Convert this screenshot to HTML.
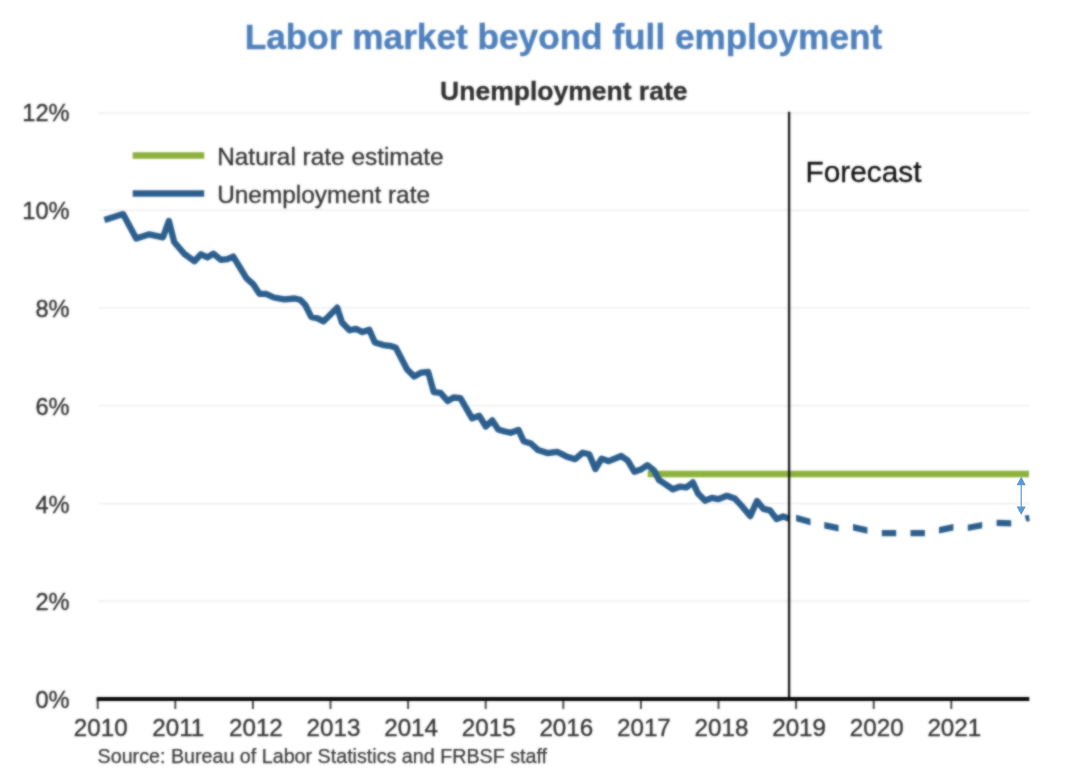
<!DOCTYPE html>
<html><head><meta charset="utf-8"><title>Labor market beyond full employment</title>
<style>
html,body{margin:0;padding:0;background:#fff}
body{width:1070px;height:780px;overflow:hidden;font-family:"Liberation Sans",Arial,sans-serif}
svg{display:block}
svg text{font-family:"Liberation Sans",Arial,sans-serif}
</style></head><body>
<svg width="1070" height="780" viewBox="0 0 1070 780">
<g filter="url(#b)">
<rect x="-10" y="-10" width="1090" height="800" fill="#fff"/>
<g stroke="#efefef" stroke-width="1.6"><line x1="98.5" x2="1030" y1="601.1" y2="601.1"/><line x1="98.5" x2="1030" y1="503.5" y2="503.5"/><line x1="98.5" x2="1030" y1="405.7" y2="405.7"/><line x1="98.5" x2="1030" y1="307.8" y2="307.8"/><line x1="98.5" x2="1030" y1="210.3" y2="210.3"/><line x1="98.5" x2="1030" y1="113.1" y2="113.1"/></g>
<text x="563.5" y="48.8" text-anchor="middle" font-size="35.2" font-weight="bold" fill="#4f81bd" stroke="#4f81bd" stroke-width="0.4">Labor market beyond full employment</text>
<text x="563.8" y="99.7" text-anchor="middle" font-size="26.5" font-weight="bold" fill="#303030" stroke="#303030" stroke-width="0.3">Unemployment rate</text>
<g font-size="23.6" fill="#333" stroke="#333" stroke-width="0.35"><text x="69.6" y="708.2" text-anchor="end">0%</text><text x="69.6" y="610.4" text-anchor="end">2%</text><text x="69.6" y="512.6" text-anchor="end">4%</text><text x="69.6" y="414.8" text-anchor="end">6%</text><text x="69.6" y="316.9" text-anchor="end">8%</text><text x="69.6" y="219.1" text-anchor="end">10%</text><text x="69.6" y="121.3" text-anchor="end">12%</text></g>
<g font-size="24.2" fill="#333" stroke="#333" stroke-width="0.35"><text x="100.7" y="736" text-anchor="middle">2010</text><text x="178.3" y="736" text-anchor="middle">2011</text><text x="255.9" y="736" text-anchor="middle">2012</text><text x="333.5" y="736" text-anchor="middle">2013</text><text x="411.1" y="736" text-anchor="middle">2014</text><text x="488.7" y="736" text-anchor="middle">2015</text><text x="566.3" y="736" text-anchor="middle">2016</text><text x="643.9" y="736" text-anchor="middle">2017</text><text x="721.5" y="736" text-anchor="middle">2018</text><text x="799.1" y="736" text-anchor="middle">2019</text><text x="876.7" y="736" text-anchor="middle">2020</text><text x="954.3" y="736" text-anchor="middle">2021</text></g>
<text x="97.6" y="762.6" font-size="19.7" fill="#3a3a3a" stroke="#3a3a3a" stroke-width="0.25">Source: Bureau of Labor Statistics and FRBSF staff</text>
<line x1="132.7" x2="204.2" y1="155.4" y2="155.4" stroke="#8db13d" stroke-width="6.5"/>
<line x1="132.7" x2="204.2" y1="193.6" y2="193.6" stroke="#2c5f8e" stroke-width="6.5"/>
<text x="217.2" y="164.6" font-size="24.4" fill="#333" stroke="#333" stroke-width="0.3">Natural rate estimate</text>
<text x="217.2" y="202.5" font-size="24.4" fill="#333" stroke="#333" stroke-width="0.3">Unemployment rate</text>
<text x="805.6" y="182.2" font-size="29.8" fill="#111" stroke="#111" stroke-width="0.3">Forecast</text>
<line x1="647.7" x2="1029" y1="474" y2="474" stroke="#8db13d" stroke-width="6.5"/>
<path d="M104.4 219.9 L123.1 214.1 L136.2 238.6 L149.3 234.3 L163.0 237.3 L168.9 220.9 L174.2 241.9 L184.0 253.6 L194.4 261.2 L201.0 254.3 L207.5 257.3 L213.4 253.6 L220.9 259.9 L227.4 259.2 L233.3 256.6 L246.4 278.2 L253.6 284.7 L259.5 293.9 L266.0 293.9 L273.9 297.5 L284.3 299.4 L294.8 298.5 L300.2 299.8 L305.3 305.0 L311.2 316.8 L317.1 318.1 L323.6 321.4 L337.2 307.7 L342.0 322.5 L349.6 330.3 L355.9 328.8 L362.5 332.1 L369.3 329.8 L374.9 342.5 L383.4 345.1 L390.0 345.8 L395.8 347.8 L407.0 369.3 L414.2 376.5 L421.4 372.6 L428.2 372.0 L433.8 392.2 L440.5 392.9 L447.6 401.0 L453.6 397.5 L460.4 398.1 L472.1 418.4 L479.3 415.8 L485.8 426.5 L492.3 420.4 L498.2 429.5 L504.0 431.3 L510.7 432.8 L518.5 429.9 L523.7 441.3 L530.9 443.5 L538.1 450.1 L547.3 453.1 L557.1 451.8 L566.3 456.4 L575.2 459.2 L582.7 452.7 L589.2 454.3 L595.4 469.1 L601.6 458.6 L608.8 461.2 L621.3 456.0 L627.8 460.6 L634.3 471.7 L640.9 469.5 L647.4 465.1 L654.0 470.4 L659.2 480.2 L666.4 484.8 L672.9 489.3 L679.5 486.7 L686.2 487.4 L692.8 482.4 L698.0 493.5 L705.2 500.7 L711.8 497.8 L718.4 499.1 L726.9 495.8 L734.7 498.4 L742.6 506.9 L750.2 516.1 L757.0 501.0 L763.5 508.9 L770.0 510.4 L776.6 519.1 L783.1 516.5 L789.4 518.7" fill="none" stroke="#2c5f8e" stroke-width="6.3" stroke-linejoin="round" stroke-linecap="butt"/>
<path d="M796.1 514.83 L810.5 518.83 L810.5 525.37 L796.1 521.37 Z M824.3 522.09 L838.6 524.99 L838.6 531.41 L824.3 528.51 Z M853.0 524.07 L867.4 527.37 L867.4 533.83 L853.0 530.53 Z M881.8 530.05 L896.2 530.05 L896.2 536.35 L881.8 536.35 Z M910.5 530.05 L924.9 530.05 L924.9 536.35 L910.5 536.35 Z M939.0 527.08 L953.4 524.08 L953.4 530.52 L939.0 533.52 Z M967.8 524.69 L982.2 521.89 L982.2 528.31 L967.8 531.11 Z M996.6 519.65 L1011.2 520.15 L1011.2 526.45 L996.6 525.95 Z" fill="#2c5f8e"/>
<path d="M1024.6 515.6 L1028.8 515 L1029.8 521 L1026.6 521.8 Z" fill="#2c5f8e"/>
<line x1="789.1" x2="789.1" y1="111.8" y2="699" stroke="#151515" stroke-width="2.3"/>
<g stroke="#444" stroke-width="1.9"><line x1="97.7" x2="97.7" y1="699" y2="709"/><line x1="175.3" x2="175.3" y1="699" y2="709"/><line x1="252.9" x2="252.9" y1="699" y2="709"/><line x1="330.5" x2="330.5" y1="699" y2="709"/><line x1="408.1" x2="408.1" y1="699" y2="709"/><line x1="485.7" x2="485.7" y1="699" y2="709"/><line x1="563.3" x2="563.3" y1="699" y2="709"/><line x1="640.9" x2="640.9" y1="699" y2="709"/><line x1="718.5" x2="718.5" y1="699" y2="709"/><line x1="796.1" x2="796.1" y1="699" y2="709"/><line x1="873.7" x2="873.7" y1="699" y2="709"/><line x1="951.3" x2="951.3" y1="699" y2="709"/></g>
<line x1="96.7" x2="1029.3" y1="699" y2="699" stroke="#0a0a0a" stroke-width="3.8"/>

</g>
<g filter="url(#b2)"><g fill="#5b9bd5" stroke="none"><line x1="1021.2" x2="1021.2" y1="482" y2="510" stroke="#5b9bd5" stroke-width="1.2"/><path d="M1021.2 476.5 L1025.8 485.2 L1016.6 485.2 Z"/><path d="M1021.2 515 L1025.8 506.4 L1016.6 506.4 Z"/></g></g>
<defs><filter id="b2" x="1000" y="460" width="40" height="70" filterUnits="userSpaceOnUse" color-interpolation-filters="sRGB"><feGaussianBlur stdDeviation="0.35"/></filter><filter id="b" x="-10" y="-10" width="1090" height="800" filterUnits="userSpaceOnUse" color-interpolation-filters="sRGB"><feGaussianBlur in="SourceGraphic" stdDeviation="1" result="bl"/><feComposite in="bl" in2="SourceGraphic" operator="arithmetic" k1="0" k2="0.7" k3="0.3" k4="0"/></filter></defs>
</svg>
</body></html>
